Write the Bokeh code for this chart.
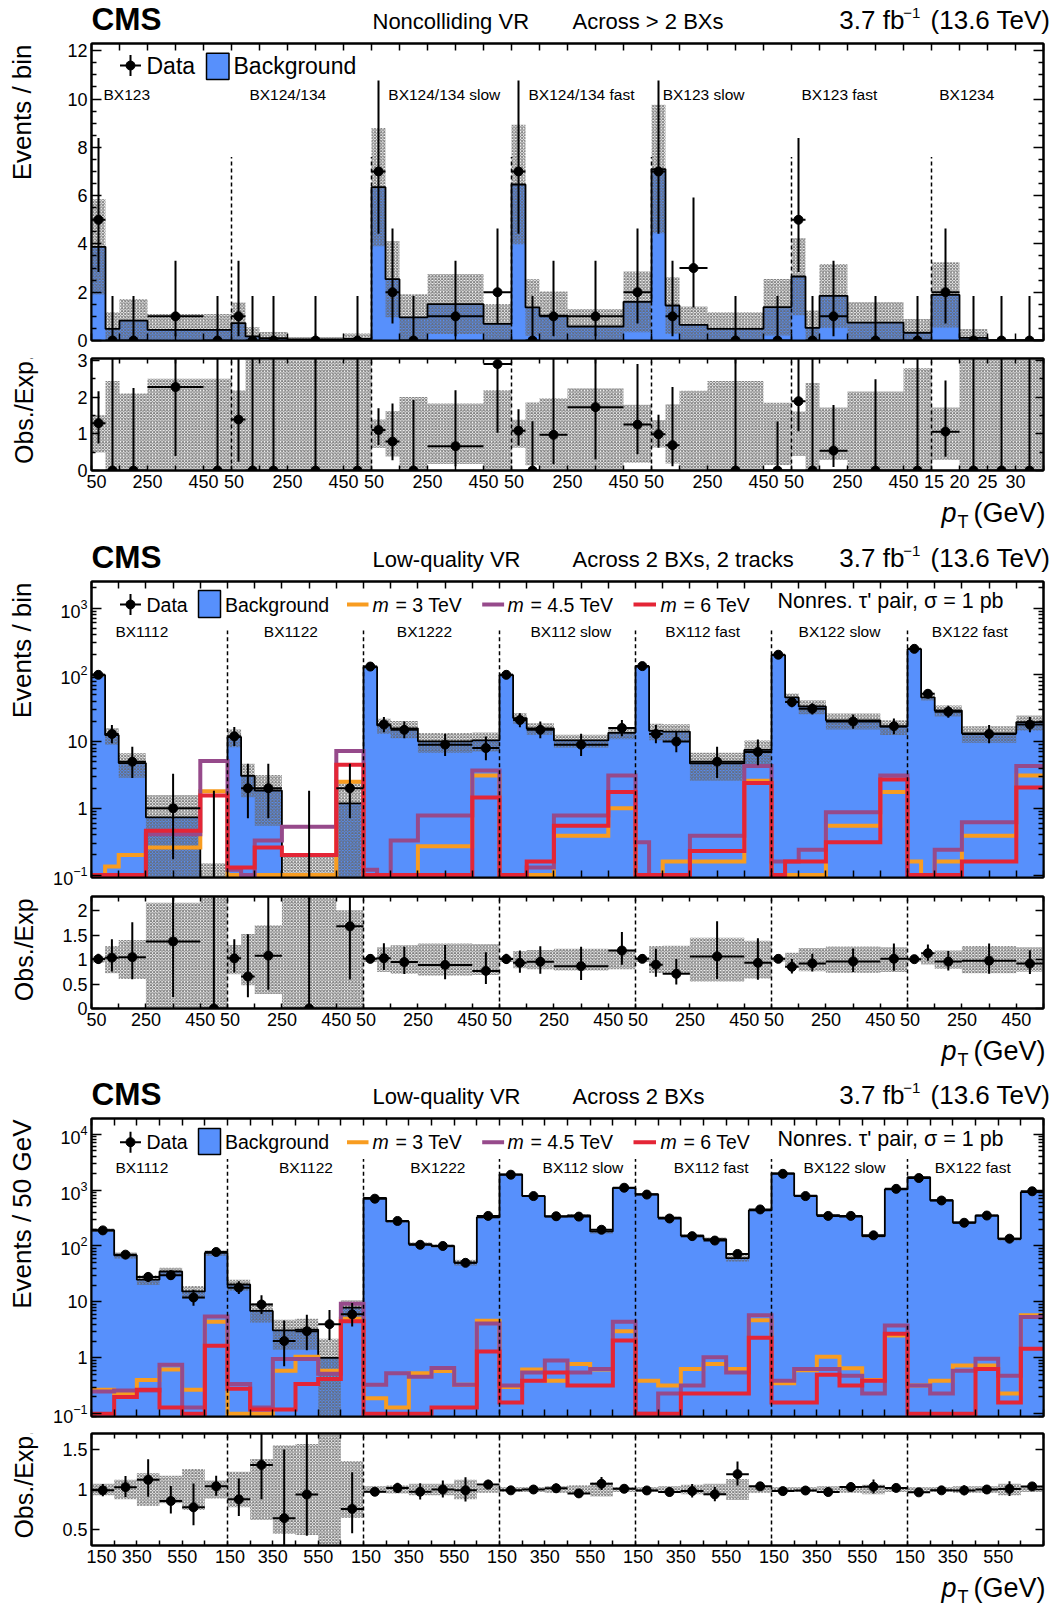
import math
import numpy as np
from bokeh.plotting import figure
from bokeh.models import FixedTicker, Range1d, LinearAxis, LogAxis, Label, LinearScale
from bokeh.layouts import column, row
from bokeh.embed import file_html
from bokeh.resources import INLINE

# ============================================================ DATA
# ---- Panel 1 : Noncolliding VR, across > 2 BXs (events / bin)
p1_categories = ["BX123", "BX124/134", "BX124/134 slow", "BX124/134 fast",
                 "BX123 slow", "BX123 fast", "BX1234"]
p1_edges_std = [50, 100, 150, 250, 450, 550]          # pT bin edges (GeV)
p1_edges_bx1234 = [15, 20, 25, 30, 35]
p1_tick_labels_std = [50, 250, 450]
p1_tick_labels_bx1234 = [15, 20, 25, 30]
p1_bkg = [
    [3.88, 0.48, 0.82, 0.44, 0.44],
    [0.72, 0.17, 0.10, 0.05, 0.07],
    [6.35, 2.54, 0.96, 1.51, 0.69],
    [6.46, 1.37, 1.03, 0.58, 1.60],
    [7.10, 1.45, 0.65, 0.48, 1.38],
    [2.65, 0.52, 1.85, 0.74, 0.32],
    [1.89, 0.11, 0.005, 0.005],
]
p1_bkg_unc = [
    [1.97, 0.69, 0.90, 0.66, 0.66],
    [0.85, 0.38, 0.25, 0.10, 0.22],
    [2.45, 1.58, 0.96, 1.24, 0.82],
    [2.47, 1.17, 1.00, 0.72, 1.26],
    [2.66, 1.17, 0.76, 0.69, 1.17],
    [1.60, 0.72, 1.32, 0.85, 0.57],
    [1.35, 0.37, 0.03, 0.03],
]
p1_data = [
    [5, 0, 0, 1, 0],
    [1, 0, 0, 0, 0],
    [7, 2, 0, 1, 2],
    [7, 0, 1, 1, 2],
    [7, 1, 3, 0, 0],
    [5, 0, 1, 0, 0],
    [2, 0, 0, 0],
]

# ---- Panel 2 : Low-quality VR, across 2 BXs, 2 tracks (events / bin)
p2_categories = ["BX1112", "BX1122", "BX1222", "BX112 slow", "BX112 fast",
                 "BX122 slow", "BX122 fast"]
p2_edges = [50, 100, 150, 250, 450, 550]
p2_tick_labels = [50, 250, 450]
p2_bkg = [
    [99, 12.5, 4.76, 0.73, 0.03],
    [11.7, 3.06, 1.85, 0.04, 1.19],
    [131, 17.5, 15.8, 10.1, 10.4],
    [99, 22.5, 15.7, 10.4, 13.5],
    [133, 14.5, 14.1, 4.7, 7.5],
    [197, 45.8, 33.6, 20.8, 16.7],
    [243, 46, 29.2, 13.3, 19.6],
]
p2_bkg_unc = [
    [6, 3.5, 1.9, 0.85, 0.12],
    [3.5, 1.6, 1.3, 0.15, 1.2],
    [6.6, 4.4, 4.6, 3.3, 3.3],
    [5, 4, 3.1, 2.3, 2.7],
    [6.7, 4, 4, 2.1, 2.9],
    [8, 6.5, 8, 5.6, 4.2],
    [10, 4.6, 5.5, 3.7, 4.9],
]
p2_data = [
    [100, 13, 5, 1, 0],
    [12, 2, 2, 0, 2],
    [133, 18, 15, 9, 8],
    [100, 21, 15, 9, 16],
    [135, 13, 10, 5, 7],
    [200, 39, 31, 20, 17],
    [245, 52, 28, 13, 18],
]
p2_sig_m3 = [
    [0, 0.135, 0.2, 0.26, 1.8],
    [0, 0, 0, 0, 2.5],
    [0, 0, 0, 0.27, 3.1],
    [0, 0, 0, 0.39, 1.0],
    [0, 0, 0.16, 0.16, 2.6],
    [0, 0, 0, 0.55, 1.75],
    [0.16, 0, 0.16, 0.39, 3.1],
]
p2_sig_m4p5 = [
    [0, 0, 0, 0.41, 5.1],
    [0.12, 0, 0.33, 0.53, 7.2],
    [0.12, 0, 0.33, 0.78, 3.7],
    [0, 0, 0.13, 0.78, 3.1],
    [0.31, 0, 0, 0.39, 4.3],
    [0.16, 0.16, 0.24, 0.87, 3.1],
    [0, 0, 0.24, 0.62, 4.3],
]
p2_sig_m6 = [
    [0, 0, 0, 0.46, 1.55],
    [0.13, 0.13, 0.26, 0.2, 4.5],
    [0, 0, 0, 0, 1.45],
    [0, 0, 0.16, 0.55, 1.75],
    [0, 0, 0, 0.23, 2.4],
    [0, 0.16, 0.16, 0.31, 2.7],
    [0, 0, 0, 0.16, 2.05],
]

# ---- Panel 3 : Low-quality VR, across 2 BXs (events / 50 GeV)
p3_categories = ["BX1112", "BX1122", "BX1222", "BX112 slow", "BX112 fast",
                 "BX122 slow", "BX122 fast"]
p3_edges = [150, 250, 350, 450, 550, 650, 750]
p3_tick_labels = [150, 350, 550]
p3_bkg = [
    [192, 68, 25, 35, 15.4, 75],
    [20.5, 6.9, 3.1, 3.2, 1.0, 7.9],
    [720, 275, 108, 100, 50.5, 325],
    [1900, 780, 335, 352, 182, 1090],
    [840, 320, 153, 133, 60.5, 433],
    [1990, 790, 356, 335, 150, 1030],
    [1700, 657, 263, 350, 134, 915],
]
p3_bkg_unc = [
    [13.4, 8.2, 5.0, 6.0, 3.9, 8.3],
    [4.5, 2.6, 1.7, 1.8, 1.2, 2.8],
    [29, 14, 7.6, 7.0, 6.1, 13],
    [57, 23, 13, 18, 16, 33],
    [25, 13, 9.2, 9.3, 7.9, 17],
    [60, 24, 14, 13, 9, 31],
    [51, 20, 10.5, 14, 9.4, 27],
]
p3_data = [
    [190, 70, 28, 30, 12, 78],
    [18, 9, 2, 3, 4, 6],
    [700, 280, 105, 100, 50, 345],
    [1880, 780, 340, 335, 195, 1100],
    [830, 310, 150, 125, 72, 450],
    [1950, 780, 345, 345, 155, 1050],
    [1640, 650, 260, 350, 135, 950],
]
p3_sig_m3 = [
    [0.27, 0.23, 0.4, 0.62, 0.27, 4.4],
    [0, 0, 0.59, 1.05, 0.59, 5.0],
    [0.19, 0.13, 0.53, 0.58, 0.33, 4.6],
    [0.3, 0.62, 0.39, 0.78, 0.62, 3.0],
    [0.39, 0.32, 0.63, 0.78, 0.63, 4.7],
    [0.35, 0.6, 1.05, 0.65, 0.4, 2.5],
    [0.32, 0.39, 0.73, 0.73, 0.23, 5.8],
]
p3_sig_m4p5 = [
    [0.25, 0.26, 0.26, 0.75, 0.13, 5.5],
    [0.34, 0.13, 0.95, 0.95, 0.52, 9.3],
    [0.33, 0.53, 0.46, 0.66, 0.33, 4.1],
    [0.32, 0.55, 0.9, 0.55, 0.63, 4.4],
    [0, 0.23, 0.32, 1.03, 0.55, 5.8],
    [0.39, 0.63, 0.63, 0.48, 0.23, 3.8],
    [0.32, 0.23, 0.59, 0.96, 0.48, 5.4],
]
p3_sig_m6 = [
    [0, 0.2, 0.27, 0.13, 0, 1.65],
    [0.28, 0.12, 0.12, 0.34, 0.42, 4.5],
    [0, 0, 0, 0.13, 0.13, 1.3],
    [0.16, 0.39, 0.55, 0.32, 0.32, 2.05],
    [0, 0, 0.23, 0.23, 0.23, 2.3],
    [0.16, 0.16, 0.5, 0.32, 0.39, 2.7],
    [0, 0, 0, 0.63, 0.16, 1.45],
]
signal_masses = ["3", "4.5", "6"]

# ============================================================ STYLE / LAYOUT
FONT = "Liberation Sans"
BLUE, ORANGE, PURPLE, RED = "#5790fc", "#f89c20", "#964a8b", "#e42536"
HATCH = dict(hatch_pattern="x", hatch_color="#666666", hatch_scale=3.2,
             hatch_weight=1.0, hatch_alpha=0.85)
TOTAL_W = 1056
LT_W = 40                        # width of the strip holding the y-axis titles
FRAME_W = 952
BL = 51                          # left border of the plots (tick labels)
FL = LT_W + BL                   # page x of the frames' left edge
BR = TOTAL_W - FL - FRAME_W
MID = 0.3465                     # baseline offset of a "middle" anchored text (em)
NB = "\u00a0"

# category label anchors (axis units) -- layout, not data
p1_cat_label_x = [126, 701, 1260, 1750, 2186, 2671, 3126]
p2_cat_label_x = [185, 733, 1224, 1762, 2247, 2750, 3229]
p3_cat_label_x = [222, 946, 1528, 2168, 2734, 3322, 3888]

AW = {' ': 278, '(': 333, ')': 333, '.': 278, '\u2212': 584, 'T': 611, 'e': 556,
      'V': 667, 'f': 278, 'b': 556}


def tw(s, size):
    return sum(AW.get(c, 556) for c in s) * size / 1000.0


def flat(rows):
    return [v for r in rows for v in r]


# ---------- Garwood (central 68.3%) Poisson intervals
def _P(a, x):
    if x <= 0:
        return 0.0
    gln = math.lgamma(a)
    if x < a + 1.0:
        ap, s = a, 1.0 / a
        d = s
        for _ in range(100000):
            ap += 1.0
            d *= x / ap
            s += d
            if abs(d) < abs(s) * 1e-12:
                break
        return s * math.exp(-x + a * math.log(x) - gln)
    b = x + 1.0 - a
    c = 1e300
    d = 1.0 / b
    h = d
    for i in range(1, 100000):
        an = -i * (i - a)
        b += 2.0
        d = an * d + b
        if abs(d) < 1e-300:
            d = 1e-300
        c = b + an / c
        if abs(c) < 1e-300:
            c = 1e-300
        d = 1.0 / d
        de = d * c
        h *= de
        if abs(de - 1.0) < 1e-12:
            break
    return 1.0 - math.exp(-x + a * math.log(x) - gln) * h


def _ppf(q, a):
    lo = max(0.0, a - 10 * math.sqrt(a) - 10)
    hi = a + 10 * math.sqrt(a) + 10
    for _ in range(60):
        mid = 0.5 * (lo + hi)
        if _P(a, mid) < q:
            lo = mid
        else:
            hi = mid
    return 0.5 * (lo + hi)


A2 = (1 - 0.682689) / 2


def garwood(n):
    lo = 0.0 if n == 0 else _ppf(A2, n)
    return lo, _ppf(1 - A2, n + 1)


def layout_x(cats):
    lefts, rights, ticks, over, bounds = [], [], [], {}, []
    pos = 0.0
    for ci, (edges, step, labelled) in enumerate(cats):
        sc = 100.0 / step
        start = pos
        for a, b in zip(edges[:-1], edges[1:]):
            lefts.append(start + (a - edges[0]) * sc)
            rights.append(start + (b - edges[0]) * sc)
        t = edges[0]
        while t <= edges[-1]:
            v = int(round(start + (t - edges[0]) * sc))
            if v not in ticks:
                ticks.append(v)
            if t in labelled:
                txt = str(t)
                if t == edges[0]:
                    # ROOT nudges the first label of each block to the right
                    txt = NB * (2 * len(txt) - 2 if ci == 0 else 1) + txt
                over[v] = txt
            elif v not in over:
                over[v] = ""
            t += step
        pos = start + (edges[-1] - edges[0]) * sc
        bounds.append(pos)
    return dict(lefts=lefts, rights=rights, ticks=ticks, over=over,
                bounds=bounds[:-1], xmax=pos)


def text_fig(w, h):
    f = figure(width=w, height=h, x_range=Range1d(0, w), y_range=Range1d(0, h),
               x_axis_location=None, y_axis_location=None, title=None,
               output_backend="svg", toolbar_location=None, min_border=0)
    f.outline_line_color = None
    f.background_fill_color = "white"
    f.border_fill_color = "white"
    f.xgrid.visible = False
    f.ygrid.visible = False
    return f


def tlabel(f, top, h, X, Y, text, size, align="left", style="normal", angle=0.0):
    f.add_layout(Label(x=X, y=h - (Y - top), text=text, text_font=FONT,
                       text_font_size=f"{size}px", text_font_style=style,
                       text_align=align, text_baseline="middle", angle=angle,
                       text_color="black"))


def blabel(f, top, h, X, base, text, size, align="left", style="normal"):
    # place by alphabetic baseline (page pixels)
    tlabel(f, top, h, X, base - MID * size, text, size, align=align, style=style)


def new_fig(frame_h, bt, bb, xr, yr, log):
    p = figure(frame_width=FRAME_W, frame_height=frame_h, x_range=xr, y_range=yr,
               y_axis_type="log" if log else "linear", title=None,
               output_backend="svg", toolbar_location=None,
               min_border_left=BL, min_border_right=BR,
               min_border_top=bt, min_border_bottom=bb)
    p.xgrid.visible = False
    p.ygrid.visible = False
    p.outline_line_color = "black"
    p.outline_line_width = 2
    p.background_fill_color = "white"
    p.border_fill_color = "white"
    p.extra_x_ranges = {"px": Range1d(0, FRAME_W)}
    p.extra_y_ranges = {"px": Range1d(0, frame_h)}
    p.extra_x_scales = {"px": LinearScale()}
    p.extra_y_scales = {"px": LinearScale()}
    return p


def set_axis(ax, ticks, minor, tin, min_in, labels, over=None, size="18px", standoff=4):
    ax.ticker = FixedTicker(ticks=list(ticks), minor_ticks=list(minor))
    ax.major_tick_in = tin
    ax.major_tick_out = 0
    ax.minor_tick_in = min_in
    ax.minor_tick_out = 0
    ax.major_tick_line_width = 1.5
    ax.minor_tick_line_width = 1.5
    ax.major_tick_line_color = "black"
    ax.minor_tick_line_color = "black"
    ax.axis_line_color = "black"
    ax.axis_line_width = 2
    ax.major_label_text_font = FONT
    ax.major_label_text_color = "black"
    if labels:
        ax.major_label_text_font_size = size
        ax.major_label_standoff = standoff
        if over:
            ax.major_label_overrides = over
    else:
        ax.major_label_text_font_size = "0px"
        ax.major_label_standoff = 0
        ax.major_label_overrides = {t: "" for t in ticks}


def add_axes(p, xticks, xover, xlen, yticks, yminor, yover, ylen, ymlen, log, xlabels):
    bottom, left = p.xaxis[0], p.yaxis[0]
    top = LinearAxis()
    right = LogAxis() if log else LinearAxis()
    p.add_layout(top, "above")
    p.add_layout(right, "right")
    set_axis(bottom, xticks, [], xlen, 0, xlabels, xover, standoff=1)
    set_axis(top, xticks, [], xlen, 0, False)
    set_axis(left, yticks, yminor, ylen, ymlen, True, yover)
    set_axis(right, yticks, yminor, ylen, ymlen, False)


def flabel(p, fb, X, Y, text, size, align="left", style="normal"):
    # text inside a plot frame, placed in page pixels
    p.add_layout(Label(x=X - FL, y=fb - Y, x_units="screen", y_units="screen", text=text,
                       text_font=FONT, text_font_size=f"{size}px", text_font_style=style,
                       text_align=align, text_baseline="middle", text_color="black"))


PX = dict(x_range_name="px", y_range_name="px")
MBT, RBB = 3, 26


def make_panel(c):
    X = layout_x(c["cats"])
    xr = Range1d(0, X["xmax"])
    log = c["log"]
    floor = 1e-4 if log else 0.0
    L = np.array(X["lefts"])
    R = np.array(X["rights"])
    C = 0.5 * (L + R)
    b = np.array(flat(c["bkg"]), float)
    u = np.array(flat(c["unc"]), float)
    d = np.array(flat(c["data"]), float)
    gw = [garwood(int(n)) for n in d]
    lo = np.array([g[0] for g in gw])
    hi = np.array([g[1] for g in gw])
    xs = list(L) + [R[-1]]

    mtop, mh, MBB = c["mtop"], c["mh"], c["mbb"]
    fb = mtop + mh
    htop = c["htop"]
    hh = mtop - MBT - htop

    # ------------------------------------------------ header (title row)
    hf = text_fig(TOTAL_W, hh)
    base = mtop - 14
    blabel(hf, htop, hh, 91, base + 0.3, "CMS", 31.5, style="bold")
    blabel(hf, htop, hh, 372, base, c["mid"], 22)
    blabel(hf, htop, hh, 572, base, c["extra"], 22)
    rx = 1050
    blabel(hf, htop, hh, rx, base, "(13.6 TeV)", 26, align="right")
    sx = rx - tw("(13.6 TeV)", 26) - tw(" ", 26)
    blabel(hf, htop, hh, sx, base - 11.5, "\u22121", 15, align="right")
    blabel(hf, htop, hh, sx - tw("\u22121", 15) + 1, base, "3.7 fb", 26, align="right")

    # ------------------------------------------------ main
    p = new_fig(mh, MBT, MBB, xr, Range1d(*c["yr"]), log)
    add_axes(p, X["ticks"], None, 7, c["yticks"], c["yminor"], c["yover"], 10, 5, log, False)

    bb = np.maximum(b, floor)
    p.varea_step(x=xs, y1=[floor] * len(xs), y2=list(bb) + [bb[-1]], step_mode="after",
                 fill_color=BLUE)
    blo = np.maximum(b - u, floor)
    bhi = b + u
    p.varea_step(x=xs, y1=list(blo) + [blo[-1]], y2=list(bhi) + [bhi[-1]], step_mode="after",
                 fill_alpha=0, **HATCH)
    p.step(xs, list(bb) + [bb[-1]], mode="after", line_color="black", line_width=1.8)
    for vals, col in c["sigs"]:
        v = np.maximum(np.array(flat(vals), float), c["clamp"])
        p.step(xs, list(v) + [v[-1]], mode="after", line_color=col, line_width=4,
               line_join="miter")
    bx = X["bounds"]
    p.segment(x0=bx, y0=[max(floor, 1e-4)] * len(bx), x1=bx, y1=[c["dash_top"]] * len(bx),
              line_color="black", line_width=1.5, line_dash="4 3")
    p.segment(x0=C, y0=np.maximum(lo, floor), x1=C, y1=hi, line_color="black", line_width=2)
    m = d > 0 if log else np.ones(len(d), bool)
    p.segment(x0=L[m], y0=d[m], x1=R[m], y1=d[m], line_color="black", line_width=2)
    p.scatter(C[m], d[m], size=9, color="black")

    for name, xv in zip(c["categories"], c["cat_x"]):
        p.add_layout(Label(x=xv, y=c["cat_y"], text=name, text_font=FONT,
                           text_font_size="15.5px", text_align="center",
                           text_baseline="middle", text_color="black"))

    # legend
    Y = c["leg_y"]
    ly = fb - Y
    ls = c["leg_size"]
    p.segment(x0=[119.5 - FL], y0=[ly], x1=[140.5 - FL], y1=[ly], line_color="black",
              line_width=2, **PX)
    p.segment(x0=[130 - FL], y0=[ly - 10.5], x1=[130 - FL], y1=[ly + 10.5],
              line_color="black", line_width=2, **PX)
    p.scatter([130 - FL], [ly], size=9, color="black", **PX)
    flabel(p, fb, 146, Y, "Data", ls)
    bx0, bx1, by0, by1 = c["leg_box"]
    p.quad(left=[bx0 - FL], right=[bx1 - FL], bottom=[fb - by1], top=[fb - by0],
           fill_color=BLUE, line_color="black", line_width=1.5, **PX)
    flabel(p, fb, bx1 + 4.5, Y, "Background", ls)
    if c["sigs"]:
        for (x0, x1, mx), mass, (_, col) in zip([(346.5, 368, 372), (481.7, 503.6, 507),
                                                  (633, 655.5, 660)],
                                                 signal_masses, c["sigs"]):
            p.segment(x0=[x0 - FL], y0=[ly], x1=[x1 - FL], y1=[ly], line_color=col,
                      line_width=4, **PX)
            flabel(p, fb, mx, Y, "m", ls, style="italic")
            flabel(p, fb, mx + 23, Y, f"= {mass} TeV", ls)
        flabel(p, fb, 777, Y - 3.5, "Nonres. \u03c4' pair, \u03c3 = 1 pb", 21.5)

    mfig_top = mtop - MBT
    mfig_h = MBT + mh + MBB
    lt = text_fig(LT_W, mfig_h)
    tlabel(lt, mfig_top, mfig_h, 21, mtop - 2, c["ylabel"], 26, align="right",
           angle=math.pi / 2)

    # ------------------------------------------------ ratio
    rtop, rh = c["rtop"], 112
    rbt = rtop - (mfig_top + mfig_h)
    r = new_fig(rh, rbt, RBB, xr, Range1d(*c["rr"]), False)
    add_axes(r, X["ticks"], X["over"], 5, c["rticks"], c["rminor"], c["rover"], 8, 4, False, True)
    rel = u / b
    rlo_b = 1 - rel
    rhi_b = 1 + rel
    r.varea_step(x=xs, y1=list(rlo_b) + [rlo_b[-1]], y2=list(rhi_b) + [rhi_b[-1]],
                 step_mode="after", fill_alpha=0, **HATCH)
    r.segment(x0=bx, y0=[c["rr"][0]] * len(bx), x1=bx, y1=[c["rr"][1]] * len(bx),
              line_color="black", line_width=1.5, line_dash="4 3")
    rv = d / b
    rl = lo / b
    rhv = hi / b
    k = rv <= c["rr"][1]
    r.segment(x0=C[k], y0=rl[k], x1=C[k], y1=rhv[k], line_color="black", line_width=2)
    r.segment(x0=L[k], y0=rv[k], x1=R[k], y1=rv[k], line_color="black", line_width=2)
    r.scatter(C[k], rv[k], size=9, color="black")

    rfig_top = rtop - rbt
    rfig_h = rbt + rh + RBB
    ltr = text_fig(LT_W, rfig_h)
    tlabel(ltr, rfig_top, rfig_h, 23.5, rtop + rh / 2 + 2, "Obs./Exp.", 25, align="center",
           angle=math.pi / 2)

    # ------------------------------------------------ footer (x-axis title)
    ftop = rfig_top + rfig_h
    fh = c["fbot"] - ftop
    ff = text_fig(TOTAL_W, fh)
    yc = rtop + rh + 42
    tlabel(ff, ftop, fh, 1045, yc, "(GeV)", 27, align="right")
    tlabel(ff, ftop, fh, 962.5, yc + 9, "T", 18, align="center")
    tlabel(ff, ftop, fh, 956, yc, "p", 27, align="right", style="italic")

    return [hf, row(lt, p), row(ltr, r), ff]


def log_minor(lo_e, hi_e, ymin, ymax):
    out = []
    for e in range(lo_e, hi_e + 1):
        for k in range(2, 10):
            v = k * 10.0 ** e
            if ymin < v < ymax:
                out.append(v)
    return out


cfg1 = dict(
    cats=[(p1_edges_std, 100, p1_tick_labels_std)] * 6 + [(p1_edges_bx1234, 5, p1_tick_labels_bx1234)],
    categories=p1_categories, cat_x=p1_cat_label_x, cat_y=10.2,
    bkg=p1_bkg, unc=p1_bkg_unc, data=p1_data, sigs=[], clamp=0, log=False,
    yr=(0, 12.3), yticks=[0, 2, 4, 6, 8, 10, 12],
    yminor=[x * 0.5 for x in range(25) if x % 4 != 0], yover=None,
    htop=0, mtop=43, mh=297, mbb=10, dash_top=7.6,
    rr=(0, 3.05), rticks=[0, 1, 2, 3], rminor=[0.5, 1.5, 2.5], rover=None,
    rtop=358, fbot=535,
    mid="Noncolliding VR", extra="Across > 2 BXs", ylabel="Events / bin",
    leg_y=65, leg_size=23, leg_box=(206, 228.5, 52.7, 79),
)
cfg2 = dict(
    cats=[(p2_edges, 100, p2_tick_labels)] * 7,
    categories=p2_categories, cat_x=p2_cat_label_x, cat_y=438,
    bkg=p2_bkg, unc=p2_bkg_unc, data=p2_data,
    sigs=[(p2_sig_m3, ORANGE), (p2_sig_m4p5, PURPLE), (p2_sig_m6, RED)], clamp=0.1, log=True,
    yr=(0.092, 2500), yticks=[0.1, 1.0, 10.0, 100.0, 1000.0],
    yminor=log_minor(-2, 3, 0.092, 2500), yover={1.0: "1", 10.0: "10"},
    htop=535, mtop=581, mh=296, mbb=13, dash_top=460,
    rr=(0, 2.29), rticks=[0.0, 0.5, 1.0, 1.5, 2.0], rminor=[],
    rover={0.0: "0", 0.5: "0.5", 1.0: "1", 1.5: "1.5", 2.0: "2"},
    rtop=896, fbot=1072,
    mid="Low-quality VR", extra="Across 2 BXs, 2 tracks", ylabel="Events / bin",
    leg_y=604, leg_size=19.5, leg_box=(198, 220, 590, 617),
)
cfg3 = dict(
    cats=[(p3_edges, 100, p3_tick_labels)] * 7,
    categories=p3_categories, cat_x=p3_cat_label_x, cat_y=2480,
    bkg=p3_bkg, unc=p3_bkg_unc, data=p3_data,
    sigs=[(p3_sig_m3, ORANGE), (p3_sig_m4p5, PURPLE), (p3_sig_m6, RED)], clamp=0.1, log=True,
    yr=(0.0895, 19000), yticks=[0.1, 1.0, 10.0, 100.0, 1000.0, 10000.0],
    yminor=log_minor(-2, 4, 0.0895, 19000), yover={1.0: "1", 10.0: "10"},
    htop=1072, mtop=1118, mh=298, mbb=10, dash_top=3600,
    rr=(0.306, 1.694), rticks=[0.5, 1.0, 1.5], rminor=[],
    rover={0.5: "0.5", 1.0: "1", 1.5: "1.5"},
    rtop=1433, fbot=1609,
    mid="Low-quality VR", extra="Across 2 BXs", ylabel="Events / 50 GeV",
    leg_y=1141.7, leg_size=19.5, leg_box=(198, 220, 1128, 1154),
)

items = []
for cfg in (cfg1, cfg2, cfg3):
    items.extend(make_panel(cfg))

page = column(*items)
open("out.html", "w").write(file_html(page, INLINE))
